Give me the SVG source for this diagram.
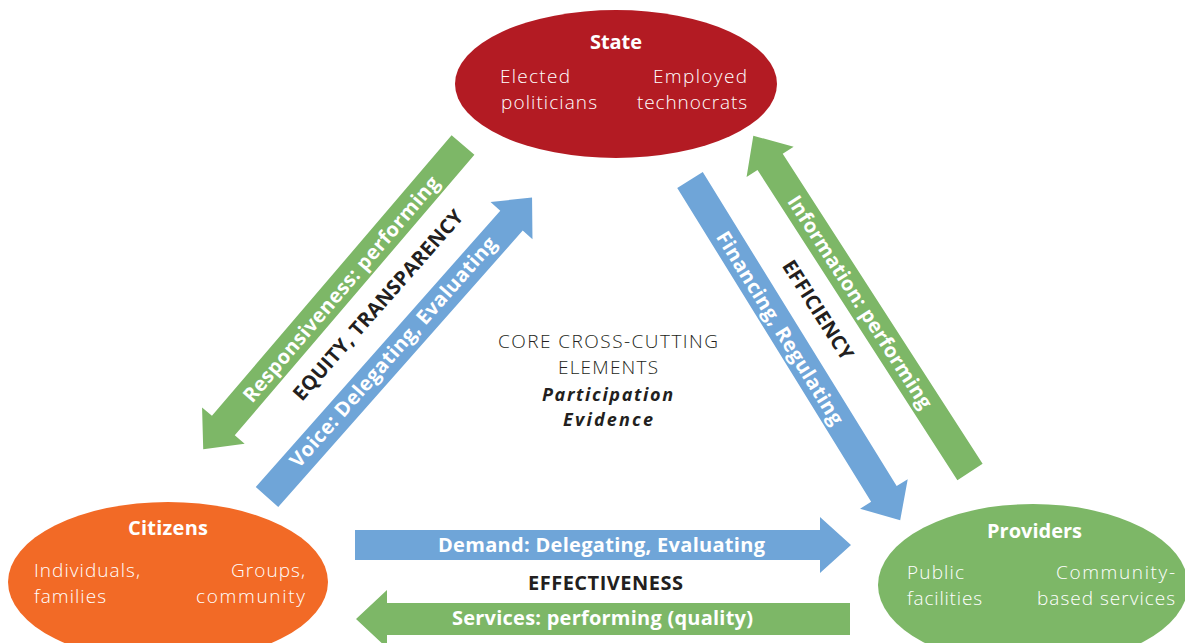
<svg xmlns="http://www.w3.org/2000/svg" width="1185" height="643" viewBox="0 0 1185 643">
  <style>
    text { font-family: "Open Sans", "Noto Sans", "DejaVu Sans", sans-serif; }
    .title { font-size: 20px; font-weight: 700; fill: #ffffff; text-anchor: middle; }
    .sub { font-size: 19px; font-weight: 300; fill: #ffffff; }
    .lbl { font-size: 20px; font-weight: 700; fill: #ffffff; text-anchor: middle; }
    .key { font-size: 20px; font-weight: 700; fill: #231F20; text-anchor: middle; }
    .core { font-size: 19px; font-weight: 300; fill: #231F20; text-anchor: middle; }
    .corei { font-size: 18px; font-weight: 700; font-style: italic; fill: #231F20; text-anchor: middle; }
    .green { fill: #7DB767; }
    .blue { fill: #6FA5D8; }
  </style>
  <defs>
    <path id="diagArrow" d="M0,-15 L369,-15 L369,-28 L400,0 L369,28 L369,15 L0,15 Z"/>
  </defs>

  <g id="connectors">
    <use href="#diagArrow" class="green" transform="translate(463,145) rotate(130.5)"/>
    <use href="#diagArrow" class="blue" transform="translate(267,497) rotate(-48.5)"/>
    <use href="#diagArrow" class="blue" transform="translate(690,180) rotate(58.3)"/>
    <use href="#diagArrow" class="green" transform="translate(970,472) rotate(-122.8)"/>
    <path class="blue" d="M355,530 L820,530 L820,517 L851,545 L820,573 L820,560 L355,560 Z"/>
    <path class="green" d="M850,603 L387,603 L387,590 L356,619 L387,648 L387,635 L850,635 Z"/>

    <text class="lbl" transform="translate(341,289) rotate(-49.5)" y="7" textLength="290">Responsiveness: performing</text>
    <text class="key" transform="translate(378,305) rotate(-48.6)" y="7" textLength="246">EQUITY, TRANSPARENCY</text>
    <text class="lbl" transform="translate(393,352) rotate(-48.5)" y="7" textLength="300">Voice: Delegating, Evaluating</text>
    <text class="lbl" transform="translate(780,328) rotate(58.3)" y="7" textLength="223">Financing, Regulating</text>
    <text class="key" transform="translate(818,310) rotate(57.5)" y="7" textLength="114">EFFICIENCY</text>
    <text class="lbl" transform="translate(860,302) rotate(57.2)" y="7" textLength="249">Information: performing</text>
    <text class="lbl" x="601.5" y="552" textLength="327">Demand: Delegating, Evaluating</text>
    <text class="key" x="605.5" y="590" textLength="155">EFFECTIVENESS</text>
    <text class="lbl" x="602.5" y="625" textLength="301">Services: performing (quality)</text>
  </g>

  <g id="state">
    <ellipse cx="616" cy="84" rx="161" ry="74" fill="#B31B23"/>
    <text class="title" x="616" y="49" textLength="52">State</text>
    <text class="sub" x="500" y="83" textLength="70">Elected</text>
    <text class="sub" x="501" y="109" textLength="96">politicians</text>
    <text class="sub" x="747" y="83" text-anchor="end" textLength="94">Employed</text>
    <text class="sub" x="747" y="109" text-anchor="end" textLength="110">technocrats</text>
  </g>

  <g id="citizens">
    <ellipse cx="168" cy="582" rx="160" ry="80" fill="#F26A26"/>
    <text class="title" x="168" y="535" textLength="80">Citizens</text>
    <text class="sub" x="34" y="577" textLength="106">Individuals,</text>
    <text class="sub" x="34" y="603" textLength="72">families</text>
    <text class="sub" x="305" y="577" text-anchor="end" textLength="74">Groups,</text>
    <text class="sub" x="305" y="603" text-anchor="end" textLength="109">community</text>
  </g>

  <g id="providers">
    <ellipse cx="1033" cy="585" rx="155" ry="81" fill="#7DB767"/>
    <text class="title" x="1034.5" y="538" textLength="95">Providers</text>
    <text class="sub" x="907" y="579" textLength="57">Public</text>
    <text class="sub" x="907" y="605" textLength="75">facilities</text>
    <text class="sub" x="1175" y="579" text-anchor="end" textLength="119">Community-</text>
    <text class="sub" x="1175" y="605" text-anchor="end" textLength="138">based services</text>
  </g>

  <g id="core">
    <text class="core" x="608" y="348" textLength="220">CORE CROSS-CUTTING</text>
    <text class="core" x="608" y="374" textLength="100">ELEMENTS</text>
    <text class="corei" x="607.5" y="401" textLength="131">Participation</text>
    <text class="corei" x="608" y="426" textLength="90">Evidence</text>
  </g>
</svg>
